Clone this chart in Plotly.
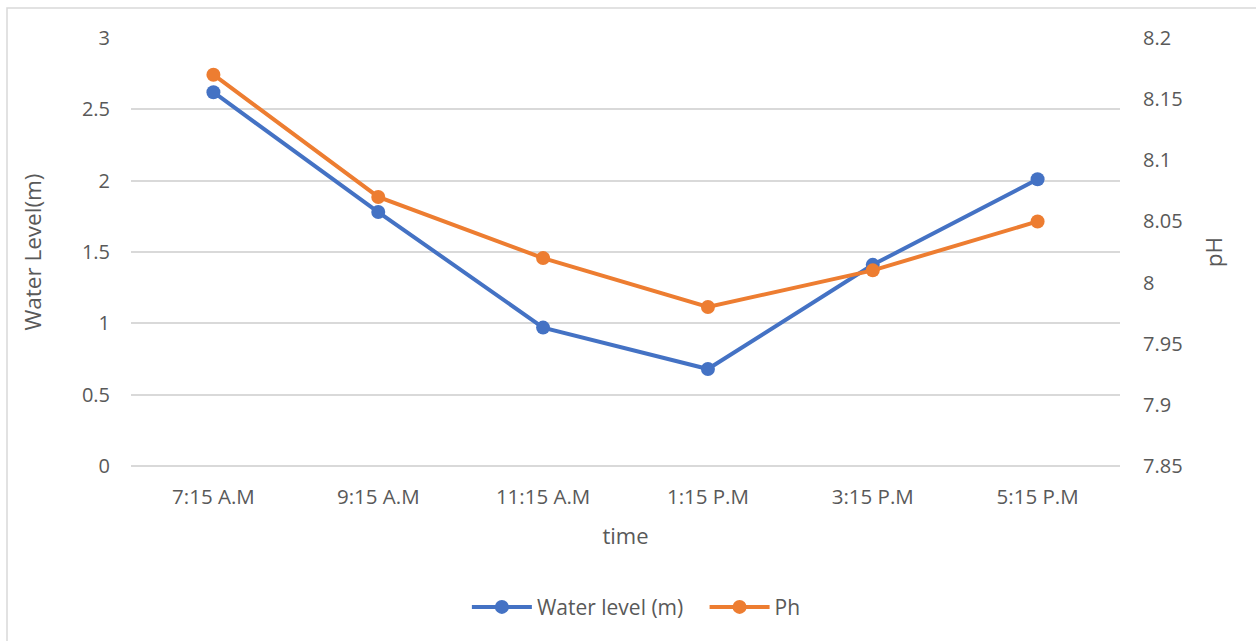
import plotly.graph_objects as go

times = ["7:15 A.M", "9:15 A.M", "11:15 A.M", "1:15 P.M", "3:15 P.M", "5:15 P.M"]
water_level = [2.62, 1.78, 0.97, 0.68, 1.41, 2.01]
ph = [8.17, 8.07, 8.02, 7.98, 8.01, 8.05]

FONT = "Open Sans"
TXT = "#595959"

fig = go.Figure()
fig.add_trace(go.Scatter(x=times, y=water_level, name="Water level (m)\u00a0\u00a0\u00a0", mode="lines+markers",
                         line=dict(color="#4472C4", width=4), marker=dict(size=14, color="#4472C4"),
                         yaxis="y"))
fig.add_trace(go.Scatter(x=times, y=ph, name="Ph", mode="lines+markers",
                         line=dict(color="#ED7D31", width=4), marker=dict(size=14, color="#ED7D31"),
                         yaxis="y2"))

fig.update_layout(
    width=1256, height=641,
    margin=dict(l=131, r=136, t=38, b=175),
    paper_bgcolor="white", plot_bgcolor="white",
    font=dict(family=FONT, size=20, color=TXT),
    xaxis=dict(title=dict(text="time", font=dict(size=22), standoff=20),
               range=[-0.5, 5.5],
               showgrid=False, showline=False, ticks="", zeroline=False,
               ticklabelstandoff=16, tickfont=dict(size=20.5)),
    yaxis=dict(title=dict(text="Water Level(m)", font=dict(size=22.5), standoff=34),
               range=[0, 3], dtick=0.5, showgrid=True, gridcolor="#D9D9D9", gridwidth=1.5,
               zeroline=True, zerolinecolor="#D9D9D9", zerolinewidth=1.5,
               showline=False, ticks="", ticklabelstandoff=20, tickfont=dict(size=20)),
    yaxis2=dict(title=dict(text="pH", font=dict(size=22.5), standoff=24),
                range=[7.85, 8.2], dtick=0.05, overlaying="y", side="right",
                showgrid=False, zeroline=False, showline=False,
                ticklabelstandoff=22, tickfont=dict(size=20)),
    legend=dict(orientation="h", x=0.511, xanchor="center", y=-0.33, yanchor="middle",
                font=dict(size=21), itemwidth=60),
    shapes=[dict(type="rect", xref="paper", yref="paper",
                 x0=-124/989, x1=1.2, y0=-0.6, y1=(466-8)/428,
                 line=dict(color="#D9D9D9", width=1.5), fillcolor="rgba(0,0,0,0)", layer="below")],
)

fig.write_html("out.html")
